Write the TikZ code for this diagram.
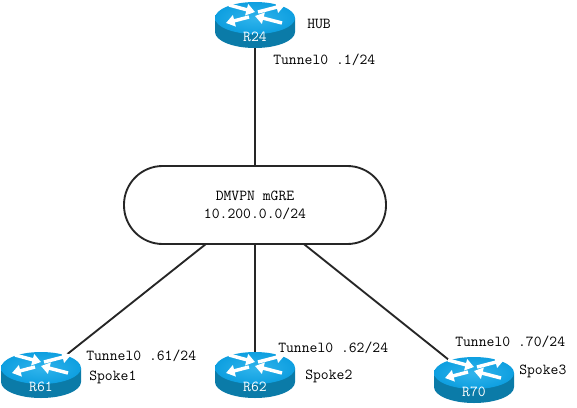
\documentclass[tikz,border=0pt]{standalone}
\usepackage{tikz}
\usepackage{xcolor}
\usetikzlibrary{arrows.meta,backgrounds}
\definecolor{routertop}{HTML}{0E9FE0}
\definecolor{routerlight}{HTML}{30B4EC}
\definecolor{routerside}{HTML}{0B7BA8}
\tikzset{
    lbl/.style={anchor=west, inner sep=0pt, font=\fontsize{11.43}{13.5}\selectfont\ttfamily},
    link/.style={draw=black!85, line width=1.4pt},
    routerarrow/.style={draw=white, line width=2.6pt, -{Triangle[length=6.5pt,width=8.5pt]}}
}
\begin{document}
\begin{tikzpicture}[x=0.75pt, y=-0.75pt]
    \useasboundingbox (0, 0) rectangle (577, 407);
    % routers
    \foreach \rname/\rx/\ry/\rtext in {r24/255/25/R24, r61/41/375/R61, r62/255/375/R62, r70/474/380/R70} {
        \fill[routerside] (\rx-40, \ry-7) -- (\rx-40, \ry+7) arc[start angle=180, end angle=360, x radius=30pt, y radius=12pt]
            -- (\rx+40, \ry-7) -- cycle;
        \shade[inner color=routerlight, outer color=routertop] (\rx, \ry-7) ellipse[x radius=30pt, y radius=12pt];
        \draw[routerarrow] (\rx-26, \ry-20) -- (\rx, \ry-13);
        \draw[routerarrow] (\rx+3, \ry-13) -- (\rx+30, \ry-20);
        \draw[routerarrow] (\rx-6, \ry-8) -- (\rx-29, \ry-2);
        \draw[routerarrow] (\rx+27, \ry-2) -- (\rx, \ry-9);
        \node[inner sep=0pt, minimum width=60pt, minimum height=33pt] (\rname) at (\rx, \ry) {};
        \node[inner sep=0pt, text=white, font=\fontsize{11.43}{13.5}\selectfont\ttfamily] (\rname text) at (\rx, \ry+12) {\rtext};
    }
    % cloud
    \node[draw=black!85, fill=white, line width=1.4pt, rounded corners=29pt, minimum width=196.5pt, minimum height=58.5pt,
        align=center, font=\fontsize{11.43}{13.5}\selectfont\ttfamily] (dmvpn) at (255, 205) {DMVPN mGRE\\10.200.0.0/24};
    % links
    \begin{pgfonlayer}{background}
        \draw[link] (r24.center) -- (dmvpn.center);
        \draw[link] (r61.center) -- (dmvpn.center);
        \draw[link] (r62.center) -- (dmvpn.center);
        \draw[link] (r70.center) -- (dmvpn.center);
    \end{pgfonlayer}
    % labels
    \node[lbl] (hub) at (307, 24) {HUB};
    \node[lbl] (t24) at (273, 60) {Tunnel0 .1/24};
    \node[lbl] (t61) at (86, 356) {Tunnel0 .61/24};
    \node[lbl] (s1) at (89, 377) {Spoke1};
    \node[lbl] (t62) at (278, 348) {Tunnel0 .62/24};
    \node[lbl] (s2) at (305, 376) {Spoke2};
    \node[lbl] (t70) at (455, 342) {Tunnel0 .70/24};
    \node[lbl] (s3) at (519, 371) {Spoke3};
\end{tikzpicture}
\end{document}
